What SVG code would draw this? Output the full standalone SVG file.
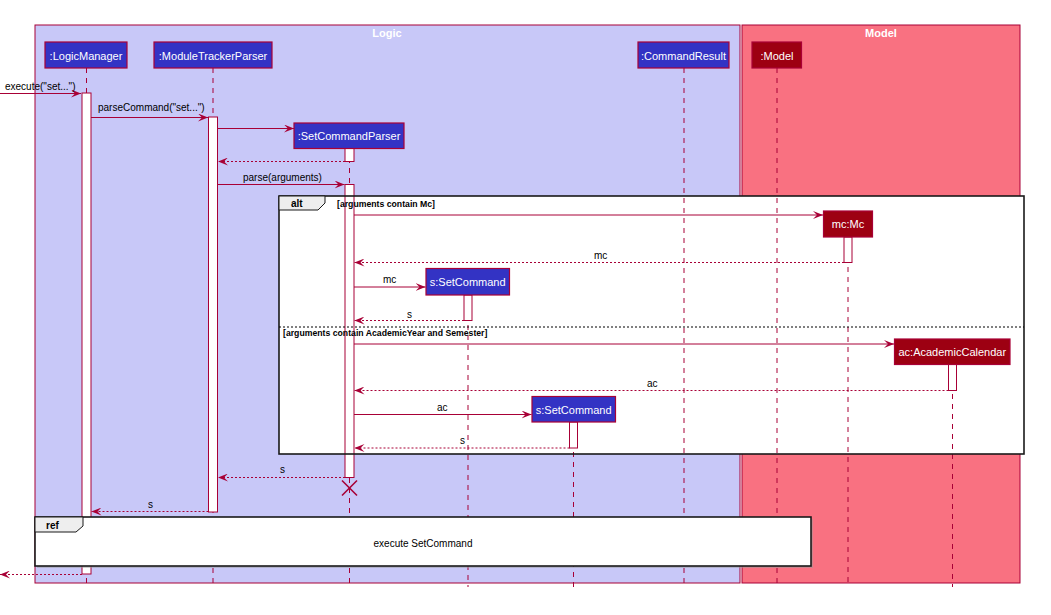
<svg xmlns="http://www.w3.org/2000/svg" width="1051" height="615" viewBox="0 0 1051 615">
<defs>
<marker id="ah" markerWidth="10" markerHeight="8" refX="10" refY="4" orient="auto" markerUnits="userSpaceOnUse">
<path d="M0,0 L10,4 L0,8 L4,4 Z" fill="#A80036"/>
</marker>
<style>
text{font-family:"Liberation Sans",Arial,sans-serif}
.box-title{font-size:11px;font-weight:bold;fill:#FFFFFF;text-anchor:middle}
.lifeline{stroke:#A80036;stroke-width:1;stroke-dasharray:5,5;fill:none}
.act{fill:#FFFFFF;stroke:#A80036;stroke-width:1}
.pl{fill:#3333C4;stroke:#A80036;stroke-width:1.2}
.pm{fill:#9D0012;stroke:#A80036;stroke-width:1.2}
.pt{font-size:11px;fill:#FFFFFF;text-anchor:middle}
.msg{stroke:#A80036;stroke-width:1;fill:none;marker-end:url(#ah)}
.ret{stroke:#A80036;stroke-width:1;fill:none;stroke-dasharray:2,2;marker-end:url(#ah)}
.ml{font-size:10px;fill:#000000}
.frame{fill:none;stroke:#1a1a1a;stroke-width:1.6}
.tab{fill:#EEEEEE;stroke:#1a1a1a;stroke-width:1}
.kw{font-size:10px;font-weight:bold;fill:#000000}
.guard{font-size:8.7px;font-weight:bold;fill:#000000}
</style>
</defs>

<!-- boxes -->
<g id="box-logic">
<rect x="35" y="25" width="705" height="558" fill="#C8C8F8" stroke="#A80036" stroke-width="1"/>
<text class="box-title" x="387" y="37">Logic</text>
</g>
<g id="box-model">
<rect x="742" y="25" width="278" height="558" fill="#F97181" stroke="#A80036" stroke-width="1"/>
<text class="box-title" x="881" y="37">Model</text>
</g>

<!-- alt fill -->
<rect x="279" y="196" width="745" height="258" fill="#FFFFFF"/>

<!-- lifelines -->
<g id="lifelines">
<line class="lifeline" x1="86.5" y1="68" x2="86.5" y2="587"/>
<line class="lifeline" x1="213" y1="68" x2="213" y2="587"/>
<line class="lifeline" x1="349.5" y1="148" x2="349.5" y2="587"/>
<line class="lifeline" x1="684" y1="68" x2="684" y2="587"/>
<line class="lifeline" x1="777" y1="68" x2="777" y2="587"/>
<line class="lifeline" x1="848" y1="237" x2="848" y2="587"/>
<line class="lifeline" x1="468" y1="295" x2="468" y2="587"/>
<line class="lifeline" x1="952.5" y1="364" x2="952.5" y2="587"/>
<line class="lifeline" x1="573.5" y1="422" x2="573.5" y2="587"/>
</g>

<!-- activations -->
<g id="activations">
<rect class="act" x="82" y="93" width="9" height="481"/>
<rect class="act" x="208.5" y="117" width="9" height="395"/>
<rect class="act" x="345" y="148.5" width="9" height="13"/>
<rect class="act" x="345" y="184.5" width="9" height="293"/>
<rect class="act" x="844" y="237" width="8" height="25.5"/>
<rect class="act" x="464" y="295" width="8" height="25.5"/>
<rect class="act" x="948.5" y="364.5" width="8" height="26"/>
<rect class="act" x="569.5" y="422" width="8" height="26"/>
</g>

<!-- participants -->
<g id="p-logicmanager"><rect class="pl" x="45" y="42" width="82" height="26"/><text class="pt" x="86" y="59.5">:LogicManager</text></g>
<g id="p-moduletrackerparser"><rect class="pl" x="154" y="42" width="118" height="26"/><text class="pt" x="213" y="59.5">:ModuleTrackerParser</text></g>
<g id="p-setcommandparser"><rect class="pl" x="294" y="123" width="110" height="25.5"/><text class="pt" x="349" y="140">:SetCommandParser</text></g>
<g id="p-commandresult"><rect class="pl" x="638" y="42" width="91" height="26"/><text class="pt" x="683.5" y="59.5">:CommandResult</text></g>
<g id="p-model"><rect class="pm" x="752" y="42" width="49.5" height="26"/><text class="pt" x="777" y="59.5">:Model</text></g>
<g id="p-mc"><rect class="pm" x="823.5" y="211" width="49" height="26"/><text class="pt" x="848" y="228">mc:Mc</text></g>
<g id="p-setcommand1"><rect class="pl" x="426" y="268.5" width="83.5" height="26.5"/><text class="pt" x="467.7" y="286">s:SetCommand</text></g>
<g id="p-academiccalendar"><rect class="pm" x="894.5" y="339" width="115.5" height="25.5"/><text class="pt" x="952.3" y="356">ac:AcademicCalendar</text></g>
<g id="p-setcommand2"><rect class="pl" x="532" y="396.5" width="83.5" height="25.5"/><text class="pt" x="573.7" y="413.5">s:SetCommand</text></g>

<!-- alt frame -->
<g id="alt-frame">
<rect class="frame" x="279" y="196" width="745" height="258"/>
<path class="tab" d="M279,196 L325,196 L325,203 L318,210 L279,210 Z"/>
<text class="kw" x="291" y="207">alt</text>
<text class="guard" x="337" y="207">[arguments contain Mc]</text>
<line x1="279" y1="327" x2="1024" y2="327" stroke="#000000" stroke-width="1" stroke-dasharray="2,2"/>
<text class="guard" x="283" y="336">[arguments contain AcademicYear and Semester]</text>
</g>

<!-- connectors -->
<g id="connectors">
<line class="msg" x1="0" y1="93.5" x2="81" y2="93.5"/>
<text class="ml" x="5" y="90">execute("set...")</text>
<line class="msg" x1="91" y1="117.5" x2="208" y2="117.5"/>
<text class="ml" x="98" y="111">parseCommand("set...")</text>
<line class="msg" x1="217.5" y1="128.5" x2="294" y2="128.5"/>
<line class="ret" x1="345" y1="161.5" x2="218" y2="161.5"/>
<line class="msg" x1="217.5" y1="184.5" x2="344.5" y2="184.5"/>
<text class="ml" x="243" y="181">parse(arguments)</text>
<line class="msg" x1="354" y1="215" x2="823" y2="215"/>
<line class="ret" x1="844" y1="262.5" x2="354.5" y2="262.5"/>
<text class="ml" x="594" y="259">mc</text>
<line class="msg" x1="354" y1="287" x2="425.5" y2="287"/>
<text class="ml" x="383" y="283">mc</text>
<line class="ret" x1="464" y1="320.5" x2="354.5" y2="320.5"/>
<text class="ml" x="407" y="318">s</text>
<line class="msg" x1="354" y1="344" x2="894" y2="344"/>
<line class="ret" x1="948.5" y1="390.5" x2="354.5" y2="390.5"/>
<text class="ml" x="647" y="387">ac</text>
<line class="msg" x1="354" y1="414.5" x2="531.5" y2="414.5"/>
<text class="ml" x="437" y="411">ac</text>
<line class="ret" x1="569.5" y1="448" x2="354.5" y2="448"/>
<text class="ml" x="460" y="444">s</text>
<line class="ret" x1="345" y1="477.5" x2="218" y2="477.5"/>
<text class="ml" x="280" y="473">s</text>
<line class="ret" x1="208.5" y1="511.5" x2="91.5" y2="511.5"/>
<text class="ml" x="148" y="508">s</text>
<line class="ret" x1="82" y1="574.5" x2="0" y2="574.5"/>
<g id="destroy" stroke="#A80036" stroke-width="1.6">
<line x1="342" y1="480.5" x2="357" y2="495.5"/>
<line x1="357" y1="480.5" x2="342" y2="495.5"/>
</g>
</g>

<!-- ref frame -->
<g id="ref-frame">
<rect x="37" y="519" width="776" height="49" fill="#9a9a9a" opacity="0.5"/>
<rect x="35" y="517" width="776" height="49" fill="#FFFFFF" stroke="#1a1a1a" stroke-width="1.6"/>
<path class="tab" d="M35,517 L83,517 L83,526 L76,532 L35,532 Z"/>
<text class="kw" x="46" y="529">ref</text>
<text class="ml" x="423" y="547" text-anchor="middle">execute SetCommand</text>
</g>
</svg>
